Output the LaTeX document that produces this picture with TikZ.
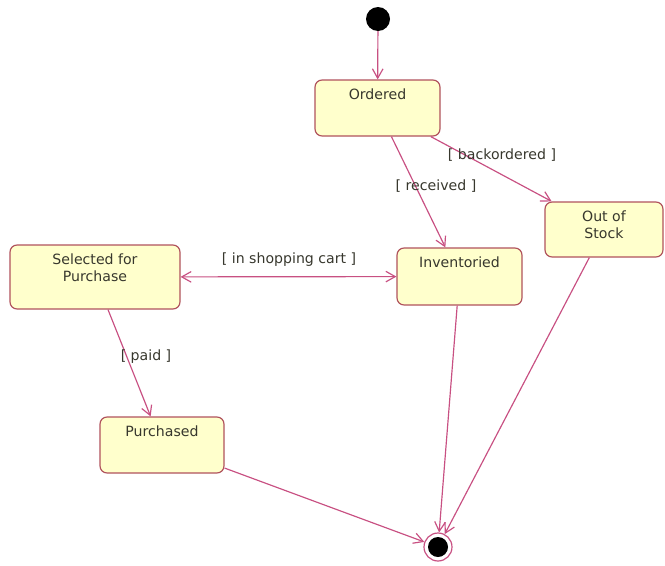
\documentclass[tikz,border=0pt]{standalone}
\usepackage{fontspec}
\setmainfont{DejaVu Sans}
\usepackage{tikz}
\usetikzlibrary{positioning,arrows.meta}
\definecolor{stfill}{RGB}{255,255,204}
\definecolor{stline}{RGB}{176,82,92}
\definecolor{trline}{RGB}{200,80,130}
\definecolor{sttext}{RGB}{55,55,45}

\begin{document}
\begin{tikzpicture}[x=0.85pt,y=-0.85pt,font=\fontsize{12}{15}\selectfont,
  >={Straight Barb[length=8pt,width=9pt]}]
\def\px{0.85pt}
\tikzset{
  stbox/.style={draw=stline,fill=stfill,line width=1pt,rounded corners=6pt,
    inner sep=0pt},
  stname/.style={anchor=north,align=center,inner ysep=7.5pt,text=sttext},
  trans/.style={draw=trline,line width=1pt},
  guard/.style={text=sttext,inner sep=1pt}
}
\useasboundingbox (0,0) rectangle (665,565);
% states: name/x/y/width/height/text (pixel grid of the sketch)
\foreach \n/\x/\y/\w/\h/\lab in {ord/377.5/108/125/56/{Ordered},
  oos/604/229.5/118/55/{Out of\\Stock},inv/459.5/276.5/125/57/{Inventoried},
  sel/95/277/170/64/{Selected for\\Purchase},pur/162/445/124/56/{Purchased}}{
  \node[stbox,minimum width=\w*\px,minimum height=\h*\px,
    label={[stname]north:\lab}] (\n) at (\x,\y) {};
}
% pseudo states
\node[circle,fill=black,minimum size=24*\px,inner sep=0pt] (init) at (378,19) {};
\node[circle,draw=trline,fill=white,line width=1pt,minimum size=28*\px,
  inner sep=0pt] (fin) at (438,547) {};
\fill[black] (fin.center) circle (8.5pt);
% transitions
\draw[trans,->] (init) -- (ord);
\draw[trans,->] (ord) -- (inv);
\draw[trans,->] (ord) -- (oos);
\draw[trans,<->] (sel) -- (inv);
\draw[trans,->] (sel) -- (pur);
\foreach \n in {pur,inv,oos}{
  \draw[trans,->] (\n) -- (fin);
}
% guards
\node[guard] (grec) at (436,186) {[ received ]};
\node[guard] (gback) at (502,155) {[ backordered ]};
\node[guard] (gcart) at (289,260) {[ in shopping cart ]};
\node[guard] (gpaid) at (146,357) {[ paid ]};
\end{tikzpicture}
\end{document}
